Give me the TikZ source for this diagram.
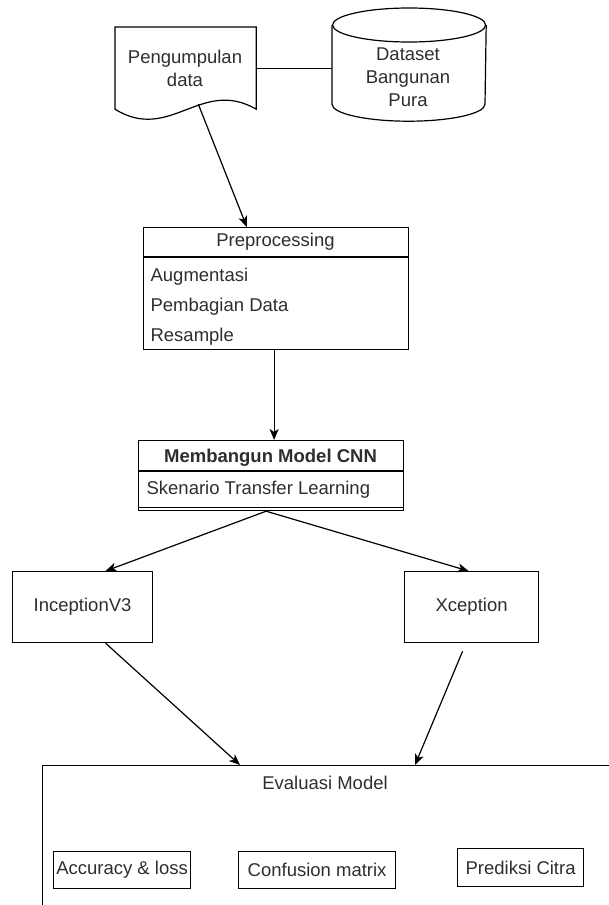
\documentclass[tikz,border=0pt]{standalone}
\usepackage{fontspec}
\setmainfont{Liberation Sans}
\usetikzlibrary{arrows.meta,calc}
\begin{document}
\begin{tikzpicture}[x=1pt,y=-1pt,line width=1.2pt,
  box/.style={draw,anchor=north west,inner sep=0pt},
  area/.style={anchor=north west,inner sep=0pt},
  txt/.style={font=\fontsize{18.5}{23}\selectfont,text=black!82,inner sep=0pt},
  arr/.style={-{Stealth[length=11pt,width=9pt,inset=3pt]}}]
\useasboundingbox (0,0) rectangle (609,905);
\clip (0,0) rectangle (609,905);

% document shape
\node[area,minimum width=140pt,minimum height=81pt] (doc) at (115,27) {};
\draw (doc.north west) -- (doc.north east) -- (doc.south east)
  .. controls ($(doc.south east)+(-55,-32)$) and ($(doc.south west)+(55,34)$) .. (doc.south west) -- cycle;
\node[txt,align=center] (doclbl) at (185,68) {Pengumpulan\\data};

% cylinder
\node[area,minimum width=153pt,minimum height=112pt] (db) at (332,8) {};
\draw ($(db.north west)+(0,17)$) -- ($(db.south west)+(0,-17)$)
  arc[start angle=180,end angle=0,x radius=76.5,y radius=17]
  -- ($(db.north east)+(0,17)$);
\draw ($(db.north)+(0,17)$) ellipse[x radius=76.5,y radius=17];
\node[txt,align=center] (dblbl) at (408,77) {Dataset\\Bangunan\\Pura};

\draw (doc.east) -- (doc.east -| db.west);

% preprocessing
\node[box,minimum width=265pt,minimum height=122pt] (pre) at (143,227) {};
\draw ($(pre.north west)+(0,30)$) -- ($(pre.north east)+(0,30)$);
\node[txt] (pretitle) at (275.5,242) {Preprocessing};
\node[txt,anchor=west] (p1) at (150,277) {Augmentasi};
\node[txt,anchor=west] (p2) at (150,307) {Pembagian Data};
\node[txt,anchor=west] (p3) at (150,337) {Resample};

% CNN
\node[box,minimum width=265pt,minimum height=70pt] (cnn) at (138,440) {};
\draw ($(cnn.north west)+(0,31)$) -- ($(cnn.north east)+(0,31)$);
\draw ($(cnn.south west)+(0,-4)$) -- ($(cnn.south east)+(0,-4)$);
\node[txt,font=\fontsize{18.5}{23}\selectfont\bfseries] (cnntitle) at (270.5,458) {Membangun Model CNN};
\node[txt,anchor=west] (c1) at (146,490) {Skenario Transfer Learning};

% models
\node[box,minimum width=140pt,minimum height=71pt] (inc) at (12,571) {};
\node[txt] (inclbl) at (inc.center) {InceptionV3};
\node[box,minimum width=134pt,minimum height=71pt] (xc) at (404,571) {};
\node[txt] (xclbl) at (xc.center) {Xception};

% evaluation
\node[box,minimum width=620pt,minimum height=220pt] (eval) at (42,765) {};
\node[txt] (evaltitle) at (325,783) {Evaluasi Model};
\node[box,minimum width=137pt,minimum height=37pt] (acc) at (53,851) {};
\node[txt] (acclbl) at (acc.center) {Accuracy \& loss};
\node[box,minimum width=157pt,minimum height=37pt] (conf) at (238,851) {};
\node[txt] (conflbl) at (conf.center) {Confusion matrix};
\node[box,minimum width=126pt,minimum height=38pt] (pred) at (457,848) {};
\node[txt] (predlbl) at (pred.center) {Prediksi Citra};

% connectors
\coordinate (docout) at ($(doc.south west)!0.59!(doc.south east)+(0,-5)$);
\coordinate (preout) at ($(pre.south)+(-2,0)$);
\coordinate (cnnin) at (preout |- cnn.north);
\draw[arr] (docout) -- ($(pre.north west)!0.39!(pre.north east)$);
\draw[arr] (preout) -- (cnnin);
\draw[arr] ($(cnn.south)+(-5,0)$) -- ($(inc.north)+(23,0)$);
\draw[arr] ($(cnn.south)+(-5,0)$) -- ($(xc.north)+(-3,0)$);
\draw[arr] ($(inc.south)+(23,0)$) -- ($(eval.north west)+(198,0)$);
\draw[arr] ($(xc.south)+(-9,8)$) -- ($(eval.north west)+(373,0)$);
\end{tikzpicture}
\end{document}
